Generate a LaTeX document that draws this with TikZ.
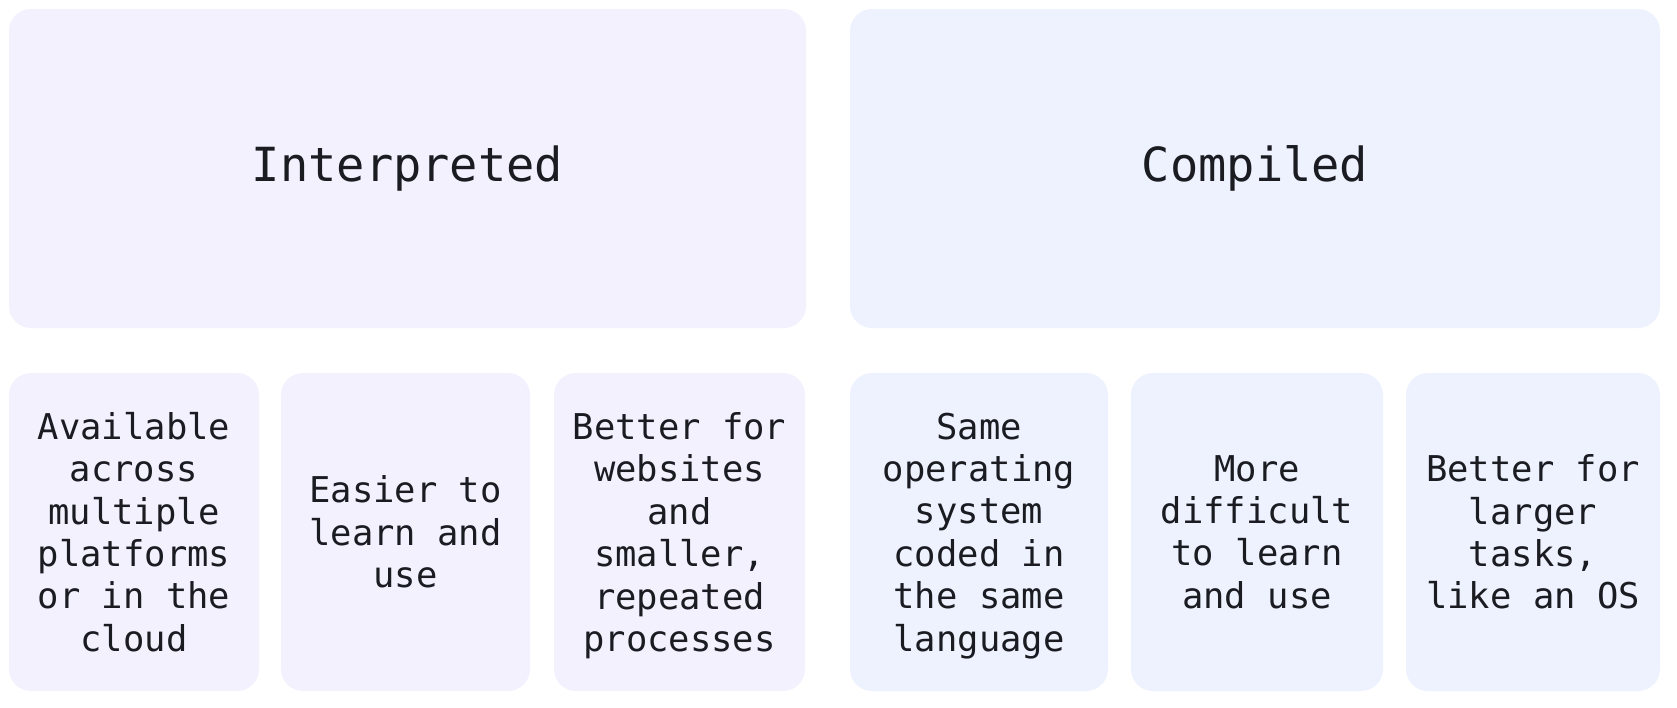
\documentclass[tikz,border=0pt]{standalone}
\usepackage{fontspec}
\setmonofont{DejaVu Sans Mono}
\definecolor{interp}{HTML}{F3F1FE}
\definecolor{compil}{HTML}{EDF2FE}
\definecolor{ink}{HTML}{1A1C22}
\newcommand{\nodepth}[1]{\raisebox{0pt}[\height][0pt]{#1}}
\tikzset{
  box/.style={inner sep=0pt, rounded corners=22pt, text=ink, align=center, font=\ttfamily},
  headbox/.style={box, minimum height=319pt, font=\ttfamily\fontsize{47}{56}\selectfont},
  itembox/.style={box, minimum height=318pt, font=\ttfamily\fontsize{35.5}{42.4}\selectfont},
  ibox/.style={fill=interp},
  cbox/.style={fill=compil}
}
\begin{document}
\begin{tikzpicture}[x=1pt,y=-1pt]
\useasboundingbox[fill=white] (0,0) rectangle (1677,707);
\node[headbox, ibox, minimum width=797pt] (interp) at (407.5,168.5) {Interpreted};
\node[headbox, cbox, minimum width=810pt] (comp) at (1255,168.5) {Compiled};
\node[itembox, ibox, minimum width=250pt] (i1) at (134,532) {Available\\across\\multiple\\platforms\\or in the\\cloud};
\node[itembox, ibox, minimum width=249pt] (i2) at (405.5,532) {Easier to\\learn and\\use};
\node[itembox, ibox, minimum width=251pt] (i3) at (679.5,532) {Better for\\websites\\and\\smaller,\\repeated\\\nodepth{processes}};
\node[itembox, cbox, minimum width=258pt] (c1) at (979,532) {Same\\operating\\system\\coded in\\the same\\\nodepth{language}};
\node[itembox, cbox, minimum width=252pt] (c2) at (1257,532) {More\\difficult\\to learn\\and use};
\node[itembox, cbox, minimum width=254pt] (c3) at (1533,532) {Better for\\larger\\tasks,\\like an OS};
\end{tikzpicture}
\end{document}
